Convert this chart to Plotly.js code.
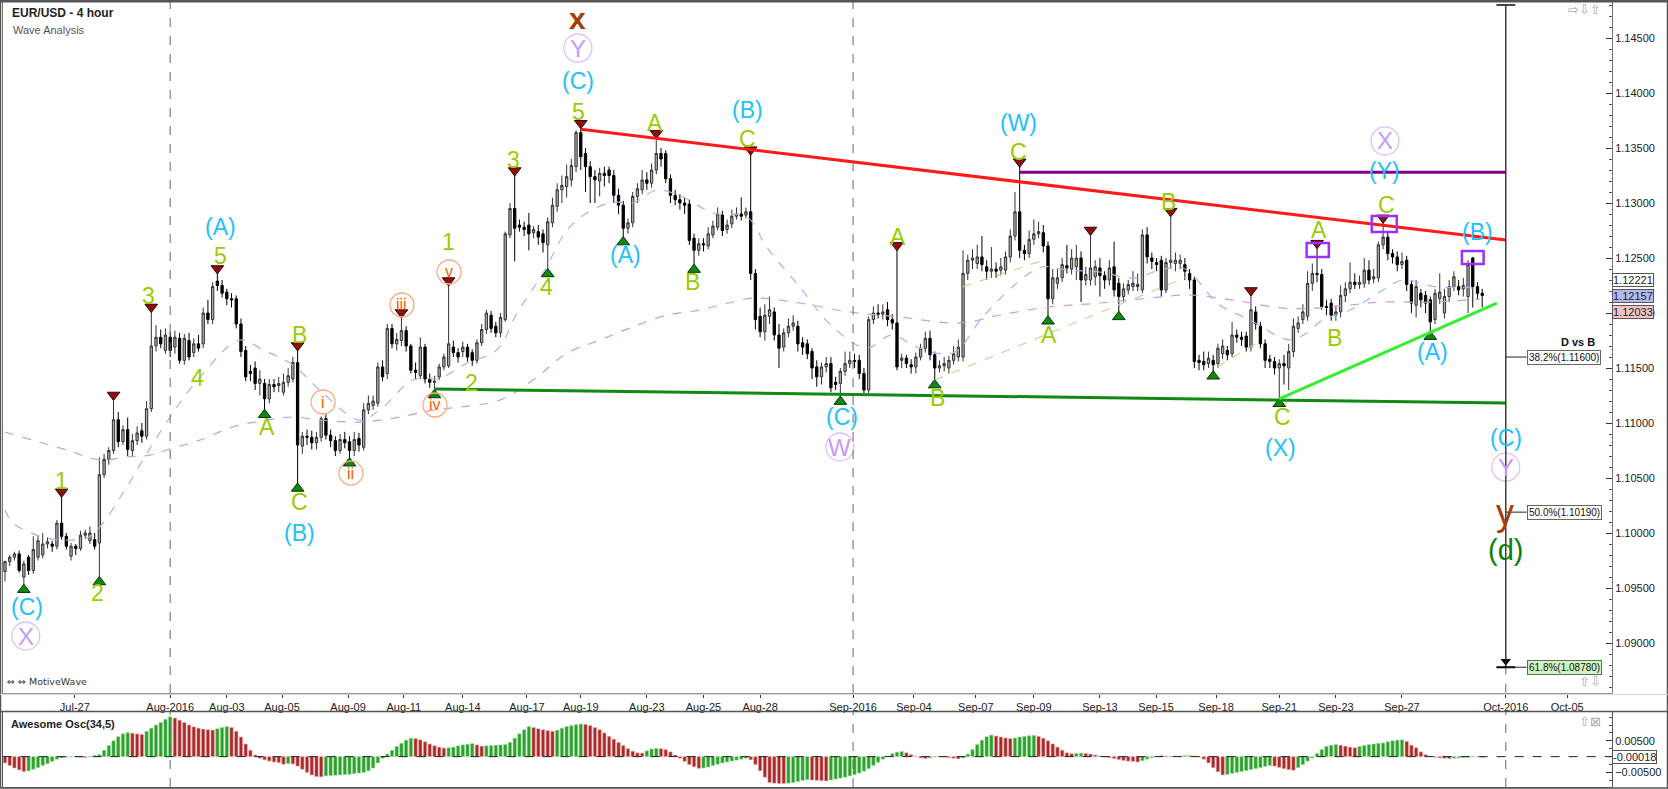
<!DOCTYPE html>
<html><head><meta charset="utf-8">
<script src="https://cdn.plot.ly/plotly-3.0.1.min.js"></script>
<style>html,body{margin:0;padding:0;background:#fff;}#chart{width:1668px;height:789px;}</style>
</head><body><div id="chart"></div>
<script>
// ---------- DATA (EUR/USD 4 hour) ----------
const open = [
1.0965,1.0974,1.0978,1.0981,1.0960,1.0978,1.0966,1.0978,1.0980,1.0990,
1.0990,1.0988,1.1009,1.0997,1.0979,1.0988,1.0986,1.0998,1.0993,1.0994,
1.0991,1.1053,1.1067,1.1075,1.1103,1.1083,1.1094,1.1075,1.1084,1.1093,
1.1088,1.1113,1.1170,1.1178,1.1166,1.1178,1.1169,1.1177,1.1157,1.1175,
1.1164,1.1172,1.1172,1.1200,1.1194,1.1229,1.1225,1.1219,1.1213,1.1213,
1.1190,1.1166,1.1147,1.1150,1.1136,1.1136,1.1122,1.1135,1.1134,1.1128,
1.1137,1.1140,1.1155,1.1079,1.1088,1.1087,1.1082,1.1087,1.1104,1.1089,
1.1084,1.1075,1.1085,1.1083,1.1075,1.1086,1.1078,1.1112,1.1116,1.1118,
1.1151,1.1145,1.1186,1.1172,1.1175,1.1184,1.1170,1.1148,1.1143,1.1169,
1.1140,1.1137,1.1142,1.1151,1.1152,1.1169,1.1164,1.1165,1.1169,1.1164,
1.1157,1.1173,1.1185,1.1198,1.1188,1.1182,1.1194,1.1271,1.1295,1.1280,
1.1278,1.1280,1.1273,1.1274,1.1272,1.1262,1.1282,1.1297,1.1312,1.1315,
1.1321,1.1333,1.1364,1.1345,1.1333,1.1324,1.1320,1.1327,1.1330,1.1325,
1.1307,1.1298,1.1277,1.1282,1.1306,1.1312,1.1321,1.1318,1.1330,1.1345,
1.1345,1.1322,1.1307,1.1303,1.1300,1.1299,1.1268,1.1257,1.1263,1.1261,
1.1271,1.1278,1.1289,1.1276,1.1281,1.1288,1.1290,1.1289,1.1292,1.1236,
1.1197,1.1183,1.1197,1.1201,1.1180,1.1169,1.1182,1.1188,1.1188,1.1173,
1.1172,1.1165,1.1151,1.1142,1.1151,1.1154,1.1137,1.1136,1.1147,1.1154,
1.1157,1.1157,1.1145,1.1130,1.1194,1.1200,1.1199,1.1203,1.1194,1.1191,
1.1157,1.1159,1.1153,1.1151,1.1160,1.1168,1.1177,1.1162,1.1150,1.1152,
1.1150,1.1157,1.1160,1.1160,1.1236,1.1248,1.1245,1.1251,1.1242,1.1238,
1.1240,1.1239,1.1239,1.1251,1.1270,1.1292,1.1257,1.1254,1.1267,1.1272,
1.1273,1.1261,1.1213,1.1227,1.1232,1.1243,1.1240,1.1242,1.1250,1.1230,
1.1230,1.1233,1.1241,1.1234,1.1230,1.1242,1.1227,1.1215,1.1221,1.1224,
1.1224,1.1221,1.1271,1.1250,1.1246,1.1248,1.1221,1.1246,1.1245,1.1245,
1.1244,1.1236,1.1230,1.1157,1.1156,1.1154,1.1157,1.1154,1.1163,1.1166,
1.1163,1.1180,1.1178,1.1179,1.1169,1.1201,1.1188,1.1172,1.1158,1.1156,
1.1150,1.1154,1.1150,1.1165,1.1186,1.1194,1.1197,1.1227,1.1236,1.1235,
1.1206,1.1209,1.1198,1.1201,1.1216,1.1222,1.1228,1.1226,1.1227,1.1239,
1.1231,1.1232,1.1262,1.1269,1.1254,1.1251,1.1244,1.1248,1.1226,1.1207,
1.1218,1.1216,1.1212,1.1194,1.1213,1.1200,1.1215,1.1224,1.1224,1.1222,
1.1215,1.1250,1.1224,1.1218];
const high = [
1.0975,1.0980,1.0983,1.0984,1.0975,1.0980,1.0997,1.0998,1.1000,1.0996,
1.0993,1.1012,1.1033,1.1000,1.0991,1.0990,1.1002,1.1003,1.1006,1.1000,
1.1069,1.1072,1.1078,1.1121,1.1110,1.1098,1.1105,1.1090,1.1097,1.1100,
1.1120,1.1201,1.1189,1.1185,1.1186,1.1183,1.1184,1.1182,1.1181,1.1182,
1.1177,1.1180,1.1205,1.1212,1.1228,1.1236,1.1230,1.1222,1.1218,1.1216,
1.1195,1.1170,1.1153,1.1156,1.1148,1.1140,1.1140,1.1140,1.1142,1.1145,
1.1150,1.1160,1.1166,1.1092,1.1094,1.1093,1.1092,1.1106,1.1108,1.1094,
1.1088,1.1090,1.1092,1.1088,1.1092,1.1091,1.1118,1.1125,1.1125,1.1155,
1.1157,1.1190,1.1190,1.1182,1.1196,1.1188,1.1172,1.1155,1.1178,1.1172,
1.1145,1.1143,1.1154,1.1163,1.1225,1.1175,1.1168,1.1174,1.1172,1.1167,
1.1176,1.1190,1.1203,1.1202,1.1192,1.1200,1.1274,1.1300,1.1325,1.1285,
1.1283,1.1291,1.1279,1.1280,1.1276,1.1287,1.1305,1.1318,1.1325,1.1335,
1.1340,1.1366,1.1368,1.1350,1.1338,1.1330,1.1332,1.1333,1.1333,1.1330,
1.1313,1.1302,1.1286,1.1310,1.1318,1.1330,1.1328,1.1336,1.1359,1.1350,
1.1348,1.1326,1.1312,1.1308,1.1305,1.1303,1.1272,1.1268,1.1268,1.1278,
1.1284,1.1296,1.1293,1.1285,1.1294,1.1296,1.1305,1.1296,1.1344,1.1240,
1.1205,1.1208,1.1215,1.1205,1.1190,1.1186,1.1195,1.1198,1.1193,1.1178,
1.1176,1.1168,1.1157,1.1155,1.1160,1.1160,1.1142,1.1150,1.1165,1.1165,
1.1163,1.1162,1.1150,1.1197,1.1206,1.1208,1.1208,1.1210,1.1199,1.1257,
1.1163,1.1162,1.1158,1.1164,1.1172,1.1183,1.1184,1.1165,1.1157,1.1160,
1.1161,1.1170,1.1176,1.1257,1.1253,1.1258,1.1262,1.1270,1.1248,1.1260,
1.1246,1.1250,1.1256,1.1276,1.1310,1.1333,1.1262,1.1275,1.1285,1.1283,
1.1280,1.1265,1.1240,1.1240,1.1250,1.1262,1.1258,1.1262,1.1256,1.1242,
1.1271,1.1248,1.1250,1.1238,1.1248,1.1265,1.1232,1.1227,1.1230,1.1238,
1.1236,1.1276,1.1278,1.1255,1.1250,1.1252,1.1250,1.1288,1.1255,1.1253,
1.1250,1.1240,1.1233,1.1162,1.1165,1.1165,1.1162,1.1172,1.1176,1.1170,
1.1192,1.1185,1.1183,1.1183,1.1216,1.1206,1.1192,1.1176,1.1162,1.1160,
1.1158,1.1162,1.1172,1.1195,1.1197,1.1208,1.1238,1.1245,1.1259,1.1240,
1.1212,1.1213,1.1207,1.1225,1.1228,1.1246,1.1236,1.1234,1.1250,1.1248,
1.1240,1.1265,1.1282,1.1274,1.1258,1.1256,1.1255,1.1252,1.1230,1.1230,
1.1222,1.1220,1.1215,1.1222,1.1236,1.1222,1.1230,1.1238,1.1230,1.1232,
1.1248,1.1251,1.1228,1.1222];
const low = [
1.0956,1.0970,1.0975,1.0964,1.0953,1.0962,1.0963,1.0975,1.0977,1.0986,
1.0983,1.0985,1.0994,1.0985,1.0975,1.0980,1.0984,1.0995,1.0990,1.0985,
1.0960,1.1050,1.1062,1.1072,1.1078,1.1080,1.1070,1.1070,1.1080,1.1082,
1.1085,1.1110,1.1165,1.1168,1.1163,1.1160,1.1163,1.1154,1.1153,1.1157,
1.1160,1.1165,1.1168,1.1190,1.1190,1.1220,1.1214,1.1207,1.1205,1.1186,
1.1160,1.1138,1.1138,1.1130,1.1125,1.1112,1.1118,1.1128,1.1128,1.1125,
1.1133,1.1137,1.1045,1.1072,1.1080,1.1076,1.1076,1.1083,1.1085,1.1078,
1.1070,1.1072,1.1077,1.1068,1.1070,1.1074,1.1075,1.1108,1.1112,1.1115,
1.1138,1.1140,1.1168,1.1166,1.1170,1.1165,1.1145,1.1140,1.1140,1.1136,
1.1132,1.1130,1.1139,1.1148,1.1150,1.1160,1.1155,1.1160,1.1156,1.1152,
1.1154,1.1170,1.1181,1.1182,1.1178,1.1178,1.1192,1.1268,1.1247,1.1274,
1.1270,1.1257,1.1268,1.1262,1.1255,1.1240,1.1278,1.1292,1.1300,1.1305,
1.1315,1.1328,1.1330,1.1310,1.1300,1.1300,1.1306,1.1315,1.1318,1.1300,
1.1290,1.1269,1.1272,1.1278,1.1300,1.1308,1.1312,1.1314,1.1326,1.1333,
1.1318,1.1300,1.1298,1.1294,1.1290,1.1262,1.1244,1.1252,1.1256,1.1258,
1.1268,1.1275,1.1270,1.1272,1.1277,1.1285,1.1284,1.1286,1.1230,1.1185,
1.1178,1.1175,1.1190,1.1175,1.1150,1.1165,1.1178,1.1184,1.1165,1.1162,
1.1158,1.1140,1.1133,1.1135,1.1146,1.1128,1.1130,1.1124,1.1143,1.1150,
1.1150,1.1140,1.1127,1.1127,1.1190,1.1195,1.1194,1.1188,1.1185,1.1148,
1.1150,1.1150,1.1145,1.1145,1.1157,1.1164,1.1157,1.1139,1.1146,1.1147,
1.1145,1.1153,1.1156,1.1156,1.1230,1.1240,1.1240,1.1238,1.1230,1.1232,
1.1232,1.1234,1.1235,1.1246,1.1266,1.1250,1.1248,1.1250,1.1262,1.1268,
1.1255,1.1197,1.1208,1.1222,1.1228,1.1236,1.1235,1.1230,1.1210,1.1225,
1.1225,1.1225,1.1215,1.1222,1.1225,1.1215,1.1201,1.1210,1.1217,1.1220,
1.1220,1.1218,1.1245,1.1240,1.1238,1.1215,1.1218,1.1240,1.1238,1.1240,
1.1230,1.1222,1.1150,1.1148,1.1148,1.1150,1.1147,1.1150,1.1158,1.1157,
1.1160,1.1173,1.1170,1.1165,1.1165,1.1185,1.1168,1.1150,1.1150,1.1144,
1.1122,1.1135,1.1130,1.1160,1.1182,1.1190,1.1193,1.1220,1.1228,1.1203,
1.1198,1.1193,1.1193,1.1196,1.1210,1.1218,1.1222,1.1222,1.1223,1.1226,
1.1227,1.1228,1.1258,1.1248,1.1245,1.1238,1.1240,1.1220,1.1200,1.1196,
1.1205,1.1200,1.1183,1.1190,1.1208,1.1195,1.1210,1.1220,1.1216,1.1215,
1.1200,1.1205,1.1212,1.1205];
const close = [
1.0974,1.0978,1.0981,1.0966,1.0972,1.0966,1.0985,1.0993,1.0990,1.0992,
1.0988,1.1009,1.0997,1.0988,1.0988,1.0986,1.0998,1.1000,1.1000,1.0988,
1.1053,1.1067,1.1075,1.1103,1.1083,1.1094,1.1076,1.1084,1.1091,1.1088,
1.1113,1.1170,1.1178,1.1172,1.1180,1.1166,1.1178,1.1157,1.1177,1.1160,
1.1172,1.1168,1.1200,1.1194,1.1224,1.1225,1.1218,1.1213,1.1212,1.1190,
1.1165,1.1142,1.1145,1.1136,1.1140,1.1122,1.1135,1.1133,1.1136,1.1137,
1.1143,1.1155,1.1080,1.1088,1.1087,1.1082,1.1087,1.1104,1.1089,1.1084,
1.1075,1.1085,1.1082,1.1075,1.1085,1.1080,1.1112,1.1118,1.1120,1.1151,
1.1142,1.1186,1.1172,1.1176,1.1184,1.1170,1.1148,1.1146,1.1169,1.1140,
1.1137,1.1138,1.1151,1.1160,1.1172,1.1164,1.1160,1.1169,1.1160,1.1157,
1.1173,1.1185,1.1200,1.1186,1.1182,1.1196,1.1272,1.1295,1.1277,1.1278,
1.1276,1.1272,1.1276,1.1269,1.1264,1.1283,1.1298,1.1312,1.1316,1.1324,
1.1334,1.1364,1.1342,1.1333,1.1324,1.1321,1.1327,1.1325,1.1325,1.1307,
1.1298,1.1277,1.1282,1.1306,1.1313,1.1321,1.1318,1.1330,1.1345,1.1340,
1.1322,1.1307,1.1303,1.1300,1.1298,1.1266,1.1257,1.1263,1.1262,1.1272,
1.1279,1.1290,1.1275,1.1280,1.1288,1.1290,1.1288,1.1292,1.1236,1.1194,
1.1183,1.1198,1.1203,1.1180,1.1168,1.1182,1.1188,1.1191,1.1172,1.1169,
1.1163,1.1150,1.1142,1.1151,1.1154,1.1132,1.1135,1.1147,1.1154,1.1157,
1.1156,1.1145,1.1130,1.1194,1.1200,1.1199,1.1201,1.1194,1.1191,1.1151,
1.1159,1.1154,1.1151,1.1160,1.1168,1.1177,1.1162,1.1150,1.1152,1.1154,
1.1157,1.1163,1.1169,1.1236,1.1248,1.1250,1.1251,1.1244,1.1238,1.1240,
1.1238,1.1242,1.1251,1.1270,1.1292,1.1257,1.1254,1.1267,1.1272,1.1274,
1.1261,1.1213,1.1232,1.1232,1.1244,1.1241,1.1250,1.1250,1.1230,1.1235,
1.1241,1.1242,1.1234,1.1230,1.1241,1.1221,1.1215,1.1222,1.1226,1.1227,
1.1226,1.1271,1.1251,1.1247,1.1244,1.1221,1.1246,1.1248,1.1248,1.1248,
1.1238,1.1230,1.1156,1.1155,1.1153,1.1159,1.1153,1.1168,1.1170,1.1162,
1.1180,1.1178,1.1176,1.1169,1.1203,1.1190,1.1172,1.1157,1.1156,1.1150,
1.1154,1.1152,1.1165,1.1188,1.1191,1.1201,1.1227,1.1236,1.1235,1.1206,
1.1205,1.1198,1.1201,1.1216,1.1222,1.1228,1.1226,1.1228,1.1239,1.1230,
1.1233,1.1262,1.1269,1.1254,1.1251,1.1244,1.1247,1.1226,1.1209,1.1224,
1.1212,1.1209,1.1192,1.1218,1.1219,1.1215,1.1224,1.1233,1.1221,1.1225,
1.1244,1.1224,1.1218,1.1216];

// Awesome Oscillator (34,5), in units of 0.0001
const aoPips = [
-20,-28,-36,-42,-47,-45,-40,-35,-28,-22,
-15,-8,-4,-2,-1,0,-2,-3,-1,3,
6,20,35,50,63,72,76,74,72,70,
80,90,100,108,118,126,122,115,108,100,
94,90,87,85,84,88,92,95,92,80,
62,40,20,5,-5,-10,-14,-17,-19,-24,
-22,-23,-30,-40,-50,-58,-63,-64,-61,-60,
-59,-58,-57,-56,-54,-52,-50,-45,-36,-20,
-5,8,20,32,42,52,58,57,53,47,
40,34,30,27,28,30,34,37,39,41,
37,33,34,35,36,37,38,45,58,72,
85,95,92,88,85,82,80,84,90,95,
98,101,103,102,98,92,85,75,64,55,
45,35,25,17,12,11,18,24,26,25,
22,15,5,-5,-15,-25,-32,-37,-36,-33,
-28,-24,-20,-17,-14,-11,-8,-5,-10,-25,
-45,-65,-82,-84,-85,-85,-84,-82,-79,-75,
-73,-74,-75,-76,-77,-74,-71,-68,-65,-61,
-57,-52,-46,-38,-28,-18,-8,2,9,14,
16,12,6,0,-4,-6,-4,-1,0,-1,
-3,-5,-7,-4,8,22,38,52,63,68,
65,62,59,57,59,62,64,66,67,64,
58,50,40,30,20,12,9,10,11,10,
8,5,2,-1,-3,-6,-9,-12,-14,-15,
-17,-13,-8,-3,1,3,2,1,1,2,
3,3,2,0,-8,-20,-35,-48,-58,-56,
-53,-50,-47,-44,-41,-38,-35,-31,-28,-30,
-34,-38,-41,-43,-35,-25,-14,-4,10,22,
32,36,38,36,33,30,28,32,35,38,
40,42,43,47,50,52,53,48,36,28,
15,6,1,-2,-4,-5,-6,-5,-4,-3,
-2,-1,-1,-2];

// Moving averages (sparse readings: bar index, price)
const maFastIdx = [0,1.7,8,13.1,17.4,20.1,25.8,30.1,35,41,49.8,54.7,61,66.7,75.2,80.1,86.4,92.2,97.9,104.2,108.5,114,119.1,123.3,128.8,133,138.1,143.6,150,157.2,161.4,168.4,175.4,182.6,187.9,193.2,200.8,207.2,214.4,219.7,225,232,239,244.7,249.6,253.2,256.8,263.8,272.2,275.8,279.2,285,292,296.2,303.4,309.7,312.5];
const maFastVal = [1.1021,1.10091,1.09964,1.09936,1.09955,1.10055,1.10418,1.10727,1.11055,1.1140,1.11755,1.11664,1.11527,1.11300,1.11027,1.11145,1.11391,1.11409,1.11545,1.11664,1.12000,1.12364,1.12755,1.12909,1.13009,1.13000,1.13118,1.13055,1.12909,1.12873,1.12600,1.12236,1.11873,1.11682,1.11800,1.11691,1.11636,1.11964,1.12273,1.12418,1.12391,1.12373,1.12318,1.12391,1.12409,1.12273,1.12091,1.11936,1.11755,1.11818,1.11936,1.12027,1.12209,1.12300,1.12236,1.12236,1.12209];
const maSlowIdx = [0,5.9,13.1,20.1,25.8,30.7,35.6,41.3,48.3,55.5,61,66.7,75.2,83.7,90.7,94.3,104.9,111.9,119.1,126.1,133,140.3,147.2,154.2,158.5,168.4,179,189.6,202.3,210.8,221.4,232,244.7,251,260.2,270.8,278,285,292,302.5,312.5];
const maSlowVal = [1.10918,1.10845,1.10755,1.10664,1.10691,1.10709,1.10773,1.10845,1.10964,1.11027,1.11055,1.11027,1.11009,1.11055,1.11118,1.11136,1.11209,1.11391,1.11636,1.11755,1.11873,1.11982,1.12027,1.12100,1.12136,1.12091,1.12009,1.11964,1.11909,1.11982,1.12055,1.12091,1.12145,1.12164,1.12118,1.12045,1.12045,1.12073,1.12100,1.12100,1.12127];

// Swing pivots (bar indices)
const pivotHighIdx = [12,23,31,45,62,84,94,108,122,138,158,189,215,230,247,264,278,292];
const pivotLowIdx  = [4,20,55,62,73,91,115,131,146,177,197,221,236,256,270,302];

// Wave labels
const waveText  = ["(C)","X","1","2","3","4","5","(A)","A","B","C","(B)","i","ii","iii","iv","v","1","2","3","4","5","(C)","Y","x","(A)","A","B","(B)","C","(C)","W","A","B","C","(W)","A","B","A","B","C","(X)","X","(Y)","C","(B)","(A)","(C)","Y","y","(d)"];
const waveIdx   = [4.7,4.4,11.9,19.7,30.5,40.7,45.6,45.6,55.5,62.3,62.3,62.5,67.4,73.3,84.1,91.1,94.1,93.9,98.9,107.8,114.8,121.6,121.4,121.4,121.4,131.4,137.7,145.6,157.4,157.4,177.3,176.9,189.2,197.5,214.8,214.8,221.2,246.6,278.4,281.8,270.6,270.3,292.4,292.4,292.8,312.1,302.5,318,318,317.8,318];
const wavePrice = [1.09327,1.09064,1.10473,1.09455,1.12155,1.11409,1.12518,1.12782,1.10964,1.11800,1.10282,1.10000,1.11191,1.10545,1.12073,1.11164,1.12373,1.12645,1.11364,1.13391,1.12236,1.13827,1.14109,1.14409,1.14673,1.12527,1.13727,1.12282,1.13845,1.13582,1.11055,1.10782,1.12691,1.11227,1.13464,1.13727,1.11800,1.13009,1.12755,1.11773,1.11055,1.10773,1.13564,1.13291,1.12982,1.12736,1.11645,1.10864,1.10600,1.10191,1.09845];
const waveDegree = ["c","p","g","g","g","g","g","c","g","g","g","c","o","o","o","o","o","g","g","g","g","g","c","p","b","c","g","g","c","g","c","p","g","g","g","c","g","g","g","g","g","c","p","c","g","c","c","c","p","b","d"];

// Trend lines (start bar, start price, end bar, end price)
const trendFromIdx   = [122, 215, 91, 270];
const trendFromPrice = [1.13670, 1.13279, 1.11309, 1.11220];
const trendToIdx     = [318, 318, 318, 316.1];
const trendToPrice   = [1.12664, 1.13279, 1.11182, 1.12091];
// Channel helper lines (dashed)
const helperFromIdx = [202.9, 197, 256.8];
const helperFromPrice = [1.12239, 1.11391, 1.11509];
const helperToIdx = [220.7, 250.4, 266.3];
const helperToPrice = [1.12488, 1.12327, 1.11755];
// Highlight boxes
const boxIdx0 = [275.8, 289.6, 308.7], boxIdx1 = [280.5, 294.9, 313.3];
const boxLow = [1.12509, 1.12736, 1.12445], boxHigh = [1.12636, 1.12882, 1.12564];

// Fibonacci projection (D vs B)
const fibPct = [38.2, 50.0, 61.8];
const fibLevel = [1.11600, 1.10190, 1.08780];
const projectionIdx = 318;

// Right-axis value tags
const tagValues = [1.12221, 1.12033, 1.12157];
const aoLast = -0.00018;

// Time axis
const tickIdx = [14.8,35,47,58.7,72.7,84.5,97,110.6,122,136,148,160,179.7,192.6,205.7,218,232,243.9,256.6,270,282,296,318,331];
const tickText = ["Jul-27","Aug-2016","Aug-03","Aug-05","Aug-09","Aug-11","Aug-14","Aug-17","Aug-19","Aug-23","Aug-25","Aug-28","Sep-2016","Sep-04","Sep-07","Sep-09","Sep-13","Sep-15","Sep-18","Sep-21","Sep-23","Sep-27","Oct-2016","Oct-05"];

// ---------- BUILD ----------
const FONT = "Liberation Sans, Arial, sans-serif";
const idx = open.map((_, i) => i);
const ao = aoPips.map(v => v / 10000);
const aoFill = [], aoEdge = [];
let up = false;
ao.forEach((v, i) => {
  if (i > 0) { if (v > ao[i-1]) up = true; else if (v < ao[i-1]) up = false; }
  aoFill.push(up ? '#2e9e2e' : '#a52a2a');
  aoEdge.push(up ? '#8fdc8f' : '#f0a0a0');
});

const markOff = 0.00045;
const traces = [];
traces.push({type:'candlestick', x: idx, open, high, low, close, xaxis:'x', yaxis:'y',
  increasing:{line:{color:'#333333', width:1}, fillcolor:'#a8a8a8'},
  decreasing:{line:{color:'#000000', width:1}, fillcolor:'#000000'},
  whiskerwidth:0, hoverinfo:'skip', showlegend:false});
traces.push({type:'scatter', mode:'lines', x: maFastIdx, y: maFastVal, xaxis:'x', yaxis:'y',
  line:{color:'#9fb6f2', width:1.2, dash:'dash', shape:'spline'}, hoverinfo:'skip'});
traces.push({type:'scatter', mode:'lines', x: maSlowIdx, y: maSlowVal, xaxis:'x', yaxis:'y',
  line:{color:'#d39ad6', width:1.2, dash:'dash', shape:'spline'}, hoverinfo:'skip'});
traces.push({type:'scatter', mode:'markers', x: pivotHighIdx, y: pivotHighIdx.map(i => high[i] + markOff),
  xaxis:'x', yaxis:'y', marker:{symbol:'triangle-down', size:11, color:'#8b1010', line:{color:'#3a0000', width:1}}, hoverinfo:'skip'});
traces.push({type:'scatter', mode:'markers', x: pivotLowIdx, y: pivotLowIdx.map(i => low[i] - markOff),
  xaxis:'x', yaxis:'y', marker:{symbol:'triangle-up', size:11, color:'#118811', line:{color:'#003300', width:1}}, hoverinfo:'skip'});
const circO = waveDegree.map((d, i) => d === 'o' ? i : -1).filter(i => i >= 0);
const circP = waveDegree.map((d, i) => d === 'p' ? i : -1).filter(i => i >= 0);
traces.push({type:'scatter', mode:'markers', x: circO.map(i => waveIdx[i]), y: circO.map(i => wavePrice[i]),
  xaxis:'x', yaxis:'y', marker:{symbol:'circle-open', size:24, color:'#ffaa80', line:{width:1.3}}, hoverinfo:'skip'});
traces.push({type:'scatter', mode:'markers', x: circP.map(i => waveIdx[i]), y: circP.map(i => wavePrice[i]),
  xaxis:'x', yaxis:'y', marker:{symbol:'circle-open', size:28, color:'#dcc0fa', line:{width:1.3}}, hoverinfo:'skip'});
traces.push({type:'scatter', mode:'markers', x:[projectionIdx], y:[fibLevel[2] + 0.00055], xaxis:'x', yaxis:'y',
  marker:{symbol:'triangle-down', size:9, color:'#000'}, hoverinfo:'skip'});
traces.push({type:'bar', x: idx, y: ao, xaxis:'x2', yaxis:'y2',
  marker:{color: aoFill, line:{color: aoEdge, width:0.6}}, hoverinfo:'skip'});

const shapes = [];
const trendColors = ['#ff1a1a', '#800080', '#108a10', '#33ee33'];
trendFromIdx.forEach((x0, k) => shapes.push({type:'line', xref:'x', yref:'y', x0, y0: trendFromPrice[k], x1: trendToIdx[k], y1: trendToPrice[k], line:{color: trendColors[k], width:3}}));
helperFromIdx.forEach((x0, k) => shapes.push({type:'line', xref:'x', yref:'y', x0, y0: helperFromPrice[k], x1: helperToIdx[k], y1: helperToPrice[k], line:{color:'#cfcf9e', width:1.2, dash:'dash'}}));
boxIdx0.forEach((x0, k) => shapes.push({type:'rect', xref:'x', yref:'y', x0, x1: boxIdx1[k], y0: boxLow[k], y1: boxHigh[k], line:{color:'#9b30ff', width:2.5}}));
['Aug-2016','Sep-2016'].forEach(t => {
  const xv = tickIdx[tickText.indexOf(t)];
  shapes.push({type:'line', xref:'x', yref:'y domain', x0:xv, x1:xv, y0:0, y1:1, line:{color:'#666', width:1, dash:'dash'}});
  shapes.push({type:'line', xref:'x', yref:'y2 domain', x0:xv, x1:xv, y0:0, y1:1, line:{color:'#666', width:1, dash:'dash'}});
});
shapes.push({type:'line', xref:'x', yref:'y', x0:projectionIdx, x1:projectionIdx, y0:fibLevel[2], y1:1.1481, line:{color:'#222', width:1.3}});
shapes.push({type:'line', xref:'x', yref:'y', x0:projectionIdx, x1:projectionIdx, y0:1.0855, y1:fibLevel[2], line:{color:'#666', width:1, dash:'dash'}});
shapes.push({type:'line', xref:'x', yref:'y2 domain', x0:projectionIdx, x1:projectionIdx, y0:0, y1:1, line:{color:'#666', width:1, dash:'dash'}});
shapes.push({type:'line', xref:'x', yref:'y', x0:projectionIdx-2, x1:projectionIdx+2, y0:fibLevel[2], y1:fibLevel[2], line:{color:'#000', width:2}});
shapes.push({type:'line', xref:'x', yref:'y', x0:projectionIdx-2, x1:projectionIdx+2, y0:1.1480, y1:1.1480, line:{color:'#444', width:2}});
fibLevel.forEach(l => shapes.push({type:'line', xref:'x', yref:'y', x0:projectionIdx, x1:322.4, y0:l, y1:l, line:{color:'#222', width:1}}));
shapes.push({type:'line', xref:'x2', yref:'y2', x0:-0.5, x1:340.5, y0:0, y1:0, line:{color:'#222', width:1, dash:'dash'}});
const PX = px => (px - 3) / 1609, PY = py => (787 - py) / 785;
shapes.push({type:'rect', xref:'paper', yref:'paper', x0:PX(0.5), x1:PX(1667.5), y0:PY(788), y1:PY(0.5), line:{color:'#555', width:1.5}});
shapes.push({type:'line', xref:'paper', yref:'paper', x0:PX(0), x1:PX(1668), y0:PY(1), y1:PY(1), line:{color:'#555', width:3}});
shapes.push({type:'line', xref:'paper', yref:'paper', x0:PX(0), x1:PX(1668), y0:PY(711.5), y1:PY(711.5), line:{color:'#555', width:1.5}});
shapes.push({type:'line', xref:'paper', yref:'paper', x0:PX(0), x1:PX(1668), y0:PY(694.5), y1:PY(694.5), line:{color:'#d8d8d0', width:1}});

const colors = {g:'#99cc00', c:'#1ec1f7', o:'#ff5a00', p:'#c69af5', b:'#a63c06', d:'#0a800a'};
const sizes  = {g:23, c:23, o:16, p:24, b:36, d:29};
const annotations = [];
waveText.forEach((t, i) => {
  const d = waveDegree[i];
  const topEdge = (d === 'b' && wavePrice[i] > 1.146);
  annotations.push({xref:'x', yref:'y', x: waveIdx[i], y: wavePrice[i], text: topEdge ? '<b>' + t + '</b>' : t, showarrow:false,
    xanchor:'center', yanchor:'middle', font:{family:FONT, size: topEdge ? 30 : sizes[d], color:colors[d]}});
});
fibPct.forEach((p, k) => annotations.push({xref:'x', yref:'y', x:322.4, y:fibLevel[k], xanchor:'left', yanchor:'middle',
  text: p.toFixed(1) + '%(' + fibLevel[k].toFixed(5) + ')', showarrow:false,
  font:{family:FONT, size:10, color:'#111'}, bgcolor: k === 2 ? '#ccf5c0' : '#ffffff', bordercolor:'#666', borderwidth:1, borderpad:1}));
annotations.push({xref:'x', yref:'y', x:337.4, y:1.1174, xanchor:'right', yanchor:'middle', text:'<b>D vs B</b>', showarrow:false, font:{family:FONT, size:11, color:'#111'}});
const tagBg = ['#ffffff', '#f4c4c4', '#b4b8f0'];
const tagShift = [9, -3, 0];
tagValues.forEach((v, k) => annotations.push({xref:'paper', yref:'y', x:1, y:v, yshift: tagShift[k], xanchor:'left', yanchor:'middle', text: v.toFixed(5), showarrow:false,
  font:{family:FONT, size:11, color:'#222'}, bgcolor: tagBg[k], bordercolor:'#555', borderwidth:1, borderpad:0}));
annotations.push({xref:'paper', yref:'y2', x:1, y:aoLast, xanchor:'left', yanchor:'middle', text: aoLast.toFixed(5), showarrow:false,
  font:{family:FONT, size:11, color:'#222'}, bgcolor:'#ffffff', bordercolor:'#555', borderwidth:1, borderpad:0});
annotations.push({xref:'paper', yref:'paper', x:PX(10), y:PY(13), xanchor:'left', yanchor:'middle', text:'<b>EUR/USD - 4 hour</b>', showarrow:false, font:{family:FONT, size:12, color:'#222'}});
annotations.push({xref:'paper', yref:'paper', x:PX(11), y:PY(30), xanchor:'left', yanchor:'middle', text:'Wave Analysis', showarrow:false, font:{family:FONT, size:11, color:'#555'}});
annotations.push({xref:'paper', yref:'paper', x:PX(5), y:PY(681), xanchor:'left', yanchor:'middle', text:'⇔ ⇔ MotiveWave', showarrow:false, font:{family:'DejaVu Sans', size:9.5, color:'#333'}});
annotations.push({xref:'paper', yref:'paper', x:PX(9), y:PY(724), xanchor:'left', yanchor:'middle', text:'<b>Awesome Osc(34,5)</b>', showarrow:false, font:{family:FONT, size:11, color:'#222'}});
annotations.push({xref:'paper', yref:'paper', x:PX(1603), y:PY(10), xanchor:'right', yanchor:'middle', text:'⇨⇩⇧', showarrow:false, font:{family:'DejaVu Sans', size:13, color:'#aaa'}});
annotations.push({xref:'paper', yref:'paper', x:PX(1603), y:PY(681), xanchor:'right', yanchor:'middle', text:'⇧⇩', showarrow:false, font:{family:'DejaVu Sans', size:13, color:'#aaa'}});
annotations.push({xref:'paper', yref:'paper', x:PX(1603), y:PY(721), xanchor:'right', yanchor:'middle', text:'⇧⊠', showarrow:false, font:{family:'DejaVu Sans', size:13, color:'#aaa'}});

const layout = {
  width:1668, height:789, margin:{l:3, r:56, t:2, b:2},
  paper_bgcolor:'#ffffff', plot_bgcolor:'#ffffff', showlegend:false, hovermode:false,
  bargap:0.3,
  xaxis:{domain:[0,1], anchor:'y', range:[-0.42, 340.5], tickmode:'array', tickvals:tickIdx, ticktext:tickText,
    ticks:'outside', ticklen:4, tickcolor:'#333', tickfont:{family:FONT, size:11, color:'#222'},
    showgrid:false, zeroline:false, showline:true, linecolor:'#999', mirror:true, rangeslider:{visible:false}},
  xaxis2:{domain:[0,1], anchor:'y2', matches:'x', range:[-0.42, 340.5], showticklabels:false, ticks:'',
    showgrid:false, zeroline:false, showline:true, linecolor:'#555', mirror:true},
  yaxis:{domain:[0.1197, 1], range:[1.085455, 1.148273], side:'right', anchor:'x', tickformat:'.5f', tick0:1.09, dtick:0.005,
    ticks:'inside', ticklen:6, tickcolor:'#333', tickfont:{family:FONT, size:11, color:'#222'},
    minor:{ticks:'inside', ticklen:3, dtick:0.001, tickcolor:'#555'},
    showgrid:false, zeroline:false, showline:true, linecolor:'#777', mirror:true},
  yaxis2:{domain:[0, 0.0955], range:[-0.00962, 0.01411], side:'right', anchor:'x2', tickmode:'array', tickvals:[-0.005, 0.005], tickformat:'.5f',
    ticks:'inside', ticklen:6, tickcolor:'#333', tickfont:{family:FONT, size:11, color:'#222'},
    minor:{ticks:'inside', ticklen:3, dtick:0.0025, tickcolor:'#555'},
    showgrid:false, zeroline:false, showline:true, linecolor:'#555', mirror:true},
  shapes, annotations
};
Plotly.newPlot('chart', traces, layout, {staticPlot:true, displayModeBar:false});
</script></body></html>
